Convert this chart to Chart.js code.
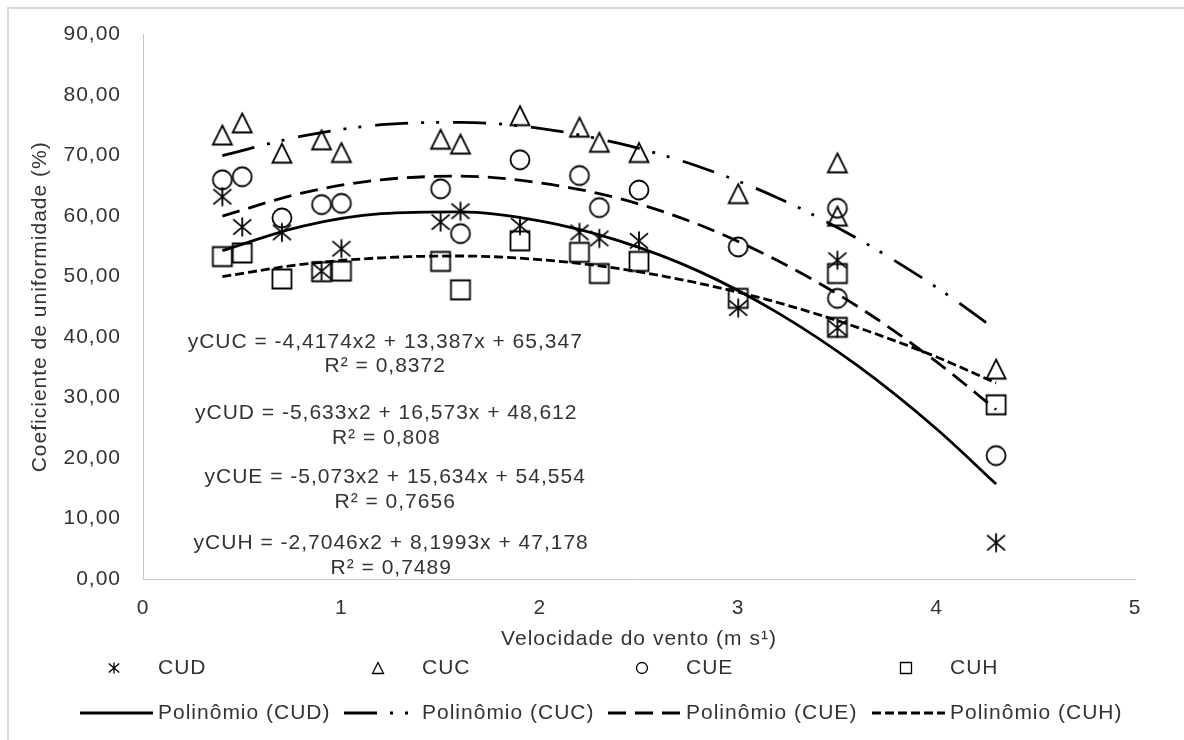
<!DOCTYPE html>
<html>
<head>
<meta charset="utf-8">
<script src="https://cdn.jsdelivr.net/npm/chart.js@4.4.0/dist/chart.umd.min.js"></script>
<style>
  html, body { margin: 0; padding: 0; background: #fff; }
  canvas { display: block; }
</style>
</head>
<body>
<canvas id="chart" width="1184" height="740"></canvas>
<script>
// measured points (wind speed, m/s)
const windSpeed = [0.4, 0.5, 0.7, 0.9, 1.0, 1.5, 1.6, 1.9, 2.2, 2.3, 2.5, 3.0, 3.5, 3.5, 4.3];
const cud = [63.2, 58.2, 57.3, 50.9, 54.6, 59.0, 60.8, 58.4, 57.3, 56.3, 55.9, 44.8, 52.7, 41.5, 6.0];
const cuc = [73.4, 75.4, 70.4, 72.6, 70.5, 72.7, 71.9, 76.6, 74.7, 72.2, 70.5, 63.7, 68.8, 60.0, 34.7];
const cue = [66.0, 66.5, 59.7, 61.9, 62.1, 64.5, 57.1, 69.3, 66.7, 61.4, 64.3, 54.9, 61.3, 46.4, 20.4];
const cuh = [53.3, 53.9, 49.6, 50.8, 50.9, 52.5, 47.8, 55.9, 54.0, 50.5, 52.5, 46.4, 50.5, 41.6, 28.8];

// trendline curves
const trendX = [0.4, 0.8, 1.2, 1.6, 2.0, 2.4, 2.8, 3.2, 3.6, 4.0, 4.3];
const cudTrend = [54.3, 58.3, 60.4, 60.7, 59.2, 55.9, 50.9, 44.0, 35.3, 24.8, 15.7];
const cucTrend = [70.0, 73.2, 75.1, 75.5, 74.5, 72.0, 68.2, 63.0, 56.3, 48.2, 41.2];
const cueTrend = [60.0, 63.8, 66.0, 66.6, 65.5, 62.9, 58.6, 52.6, 45.1, 35.9, 28.0];
const cuhTrend = [50.0, 52.0, 53.1, 53.4, 52.8, 51.3, 48.9, 45.7, 41.6, 36.7, 32.4];

const yTicks = [0, 10, 20, 30, 40, 50, 60, 70, 80, 90];

const equations = [
    ['yCUC = -4,4174x2 + 13,387x + 65,347', 'R² = 0,8372'],
    ['yCUD = -5,633x2 + 16,573x + 48,612', 'R² = 0,808'],
    ['yCUE = -5,073x2 + 15,634x + 54,554', 'R² = 0,7656'],
    ['yCUH = -2,7046x2 + 8,1993x + 47,178', 'R² = 0,7489']
];
// where the equation blocks sit, in axis units
const equationPos = [
    { x: 1.221, y: 39.2 },
    { x: 1.226, y: 27.4 },
    { x: 1.271, y: 16.8 },
    { x: 1.251, y: 5.9 }
];

const FONT = '"Liberation Sans", Arial, sans-serif';
const FONT_SIZE = 21;
const TEXT_COLOR = '#333333';
const SPACING = '1px';

function drawMarker(ctx, kind, cx, cy, s, lw) {
    const h = s / 2;
    ctx.save();
    ctx.strokeStyle = '#000';
    ctx.lineWidth = lw;
    ctx.setLineDash([]);
    ctx.beginPath();
    if (kind === 'asterisk') {
        ctx.moveTo(cx, cy - h);
        ctx.lineTo(cx, cy + h);
        ctx.moveTo(cx - h * 0.95, cy - h * 0.8);
        ctx.lineTo(cx + h * 0.95, cy + h * 0.8);
        ctx.moveTo(cx - h * 0.95, cy + h * 0.8);
        ctx.lineTo(cx + h * 0.95, cy - h * 0.8);
    } else if (kind === 'triangle') {
        ctx.moveTo(cx, cy - h);
        ctx.lineTo(cx + h, cy + h);
        ctx.lineTo(cx - h, cy + h);
        ctx.closePath();
    } else if (kind === 'circle') {
        ctx.arc(cx, cy, h, 0, Math.PI * 2);
    } else {
        ctx.rect(cx - h, cy - h, s, s);
    }
    ctx.stroke();
    ctx.restore();
}

function markerImage(kind) {
    const c = document.createElement('canvas');
    c.width = 24;
    c.height = 24;
    drawMarker(c.getContext('2d'), kind, 12, 12, 19, 1.8);
    return c;
}

function toPoints(xs, ys) {
    return xs.map((x, i) => ({ x: x, y: ys[i] }));
}

function scatterSet(label, values, kind) {
    return {
        type: 'scatter',
        label: label,
        marker: kind,
        data: toPoints(windSpeed, values),
        pointStyle: markerImage(kind),
        pointRadius: 10,
        pointHoverRadius: 10,
        borderColor: '#000',
        backgroundColor: 'transparent',
        order: 2
    };
}

function trendSet(label, values, dash) {
    return {
        type: 'line',
        label: label,
        data: toPoints(trendX, values),
        showLine: true,
        borderColor: '#000',
        borderWidth: 2.8,
        borderDash: dash,
        borderCapStyle: 'butt',
        pointRadius: 0,
        cubicInterpolationMode: 'monotone',
        fill: false,
        order: 1
    };
}

const spacingPlugin = {
    id: 'spacing',
    beforeUpdate(chart) { chart.ctx.letterSpacing = SPACING; },
    beforeDraw(chart) {
        const ctx = chart.ctx;
        ctx.letterSpacing = SPACING;
        ctx.save();
        ctx.fillStyle = '#fff';
        ctx.fillRect(0, 0, chart.width, chart.height);
        // outer chart frame (left and top edges show)
        ctx.strokeStyle = '#d9d9d9';
        ctx.lineWidth = 2;
        ctx.beginPath();
        ctx.moveTo(8, chart.height);
        ctx.lineTo(8, 8);
        ctx.lineTo(chart.width, 8);
        ctx.stroke();
        ctx.restore();
    }
};

const equationPlugin = {
    id: 'equations',
    afterDatasetsDraw(chart) {
        const ctx = chart.ctx;
        const xs = chart.scales.x;
        const ys = chart.scales.y;
        ctx.save();
        ctx.font = FONT_SIZE + 'px ' + FONT;
        ctx.fillStyle = TEXT_COLOR;
        ctx.textAlign = 'center';
        ctx.textBaseline = 'middle';
        equations.forEach((lines, i) => {
            const px = xs.getPixelForValue(equationPos[i].x);
            const py = ys.getPixelForValue(equationPos[i].y);
            lines.forEach((t, j) => ctx.fillText(t, px, py + j * 24.5));
        });
        ctx.restore();
    }
};

const legendPlugin = {
    id: 'customLegend',
    afterDraw(chart) {
        const ctx = chart.ctx;
        const sets = chart.data.datasets;
        const colStart = 158, colStep = 264;
        const row1 = 668, row2 = 713;
        ctx.save();
        ctx.font = FONT_SIZE + 'px ' + FONT;
        ctx.fillStyle = TEXT_COLOR;
        ctx.textAlign = 'left';
        ctx.textBaseline = 'middle';
        sets.filter(d => d.type === 'scatter').forEach((d, i) => {
            const tx = colStart + i * colStep;
            drawMarker(ctx, d.marker, tx - 44, row1, 11, 1.3);
            ctx.fillText(d.label, tx, row1);
        });
        sets.filter(d => d.type === 'line').forEach((d, i) => {
            const tx = colStart + i * colStep;
            ctx.save();
            ctx.strokeStyle = '#000';
            ctx.lineWidth = 2.8;
            ctx.setLineDash(d.borderDash || []);
            ctx.beginPath();
            ctx.moveTo(tx - 78, row2);
            ctx.lineTo(tx - 5, row2);
            ctx.stroke();
            ctx.restore();
            ctx.fillText(d.label, tx, row2);
        });
        ctx.restore();
    }
};

Chart.defaults.font.family = FONT;
Chart.defaults.font.size = FONT_SIZE;
Chart.defaults.color = TEXT_COLOR;

new Chart(document.getElementById('chart'), {
    type: 'scatter',
    data: {
        datasets: [
            scatterSet('CUD', cud, 'asterisk'),
            scatterSet('CUC', cuc, 'triangle'),
            scatterSet('CUE', cue, 'circle'),
            scatterSet('CUH', cuh, 'square'),
            trendSet('Polinômio (CUD)', cudTrend, []),
            trendSet('Polinômio (CUC)', cucTrend, [33, 13, 3, 12, 3, 14]),
            trendSet('Polinômio (CUE)', cueTrend, [18, 9]),
            trendSet('Polinômio (CUH)', cuhTrend, [9, 4])
        ]
    },
    options: {
        responsive: false,
        animation: false,
        devicePixelRatio: 1,
        layout: { padding: { left: 10, right: 49, top: 28, bottom: 88 } },
        plugins: {
            legend: { display: false },
            tooltip: { enabled: false }
        },
        scales: {
            x: {
                type: 'linear',
                min: 0,
                max: 5,
                grid: { display: false, drawTicks: false, tickLength: 0 },
                border: { display: true, color: '#c8c8c8', width: 1 },
                ticks: { stepSize: 1, padding: 17, color: TEXT_COLOR },
                title: {
                    display: true,
                    text: 'Velocidade do vento (m s¹)',
                    color: TEXT_COLOR,
                    padding: 0
                },
                afterFit(scale) { scale.height = 73; }
            },
            y: {
                type: 'linear',
                min: 0,
                max: 90,
                grid: { display: false, drawTicks: false, tickLength: 0 },
                border: { display: true, color: '#c8c8c8', width: 1 },
                afterBuildTicks(scale) { scale.ticks = yTicks.map(v => ({ value: v })); },
                ticks: {
                    padding: 22,
                    color: TEXT_COLOR,
                    callback: v => v.toFixed(2).replace('.', ',')
                },
                title: {
                    display: true,
                    text: 'Coeficiente de uniformidade (%)',
                    color: TEXT_COLOR,
                    padding: { top: 18, bottom: 0 }
                },
                afterFit(scale) { scale.width = 133; }
            }
        }
    },
    plugins: [spacingPlugin, equationPlugin, legendPlugin]
});
</script>
</body>
</html>
